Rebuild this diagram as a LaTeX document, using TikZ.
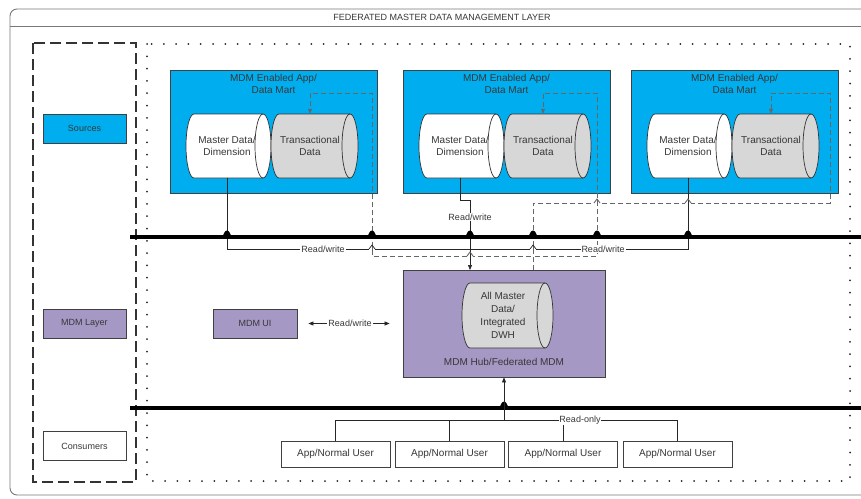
\documentclass[tikz,border=0pt]{standalone}
\usepackage{fontspec}
\setmainfont{Liberation Sans}
\usetikzlibrary{arrows.meta,calc}
\definecolor{mdmblue}{RGB}{0,174,239}
\definecolor{mdmpurple}{RGB}{166,152,196}
\definecolor{cylgray}{RGB}{215,215,215}
\definecolor{framegray}{RGB}{120,120,120}
\definecolor{txt}{RGB}{55,55,55}
\newcommand\fs[2]{\fontsize{#1}{#2}\selectfont}
\tikzset{
  boxline/.style={draw=black!75, line width=0.8pt, inner sep=0pt},
  legendbox/.style={boxline, minimum width=83pt, minimum height=29pt, font=\fs{9}{11}, text=txt},
  appbox/.style={boxline, fill=mdmblue, minimum width=207pt, minimum height=123pt},
  userbox/.style={boxline, fill=white, minimum width=109pt, minimum height=26pt, font=\fs{10}{12}, text=txt},
  cyltext/.style={inner sep=0pt, minimum height=64pt, align=center, font=\fs{10}{12.5}, text=txt},
  cylline/.style={draw=black!80, line width=0.7pt},
  conn/.style={draw=black!85, line width=0.7pt},
  dconn/.style={draw=black!60, line width=0.9pt, dash pattern=on 5pt off 3pt},
  tip/.style={-{Triangle[length=5pt,width=4pt]}},
  lbl/.style={fill=white, inner sep=1pt, font=\fs{9}{11}, text=txt},
  bus/.style={draw=black, line width=3.6pt},
  dotbox/.style={draw=black!85, line width=2pt, dash pattern=on 0pt off 12.3pt, line cap=round},
  dashbox/.style={draw=black!80, line width=1.2pt, dash pattern=on 11pt off 5pt},
  frameline/.style={draw=framegray, line width=0.9pt}
}
\newcommand\hcyl[5]{%
  \pgfmathsetmacro\cyA{#1}%
  \pgfmathsetmacro\cyB{#2}%
  \pgfmathsetmacro\cyT{#3}%
  \pgfmathsetmacro\cyD{#4}%
  \pgfmathsetmacro\cyM{(#3+#4)/2}%
  \pgfmathsetmacro\cyK{0.5523*(#4-#3)/2}%
  \def\cyR{8}%
  \filldraw[cylline, fill=#5] (\cyA+\cyR,\cyT) -- (\cyB,\cyT)
    .. controls (\cyB+0.5523*\cyR,\cyT) and (\cyB+\cyR,\cyM-\cyK) .. (\cyB+\cyR,\cyM)
    .. controls (\cyB+\cyR,\cyM+\cyK) and (\cyB+0.5523*\cyR,\cyD) .. (\cyB,\cyD)
    -- (\cyA+\cyR,\cyD)
    .. controls (\cyA+0.4477*\cyR,\cyD) and (\cyA,\cyM+\cyK) .. (\cyA,\cyM)
    .. controls (\cyA,\cyM-\cyK) and (\cyA+0.4477*\cyR,\cyT) .. cycle;
  \draw[cylline] (\cyB,\cyT)
    .. controls (\cyB-0.5523*\cyR,\cyT) and (\cyB-\cyR,\cyM-\cyK) .. (\cyB-\cyR,\cyM)
    .. controls (\cyB-\cyR,\cyM+\cyK) and (\cyB-0.5523*\cyR,\cyD) .. (\cyB,\cyD);
}
% filled dome on the bus where a line crosses it
\newcommand\busbump[2]{\fill[black] (#1-5,#2) .. controls (#1-3.5,#2-1) and (#1-3,#2-6.5) .. (#1,#2-6.5) .. controls (#1+3,#2-6.5) and (#1+3.5,#2-1) .. (#1+5,#2) -- cycle;}
% line hop: #1 style of the hopping line, #2 x, #3 y, #4 style of the crossed line
\newcommand\hop[4]{%
  \draw[white, line width=2.2pt] (#2-3,#3) -- (#2+3,#3);
  \draw[#4, solid] (#2,#3-3) -- (#2,#3+3);
  \draw[#1, solid] (#2-3,#3) -- (#2,#3-4) -- (#2+3,#3);
}
\begin{document}
\begin{tikzpicture}[x=1pt,y=-1pt]
\useasboundingbox (0,0) rectangle (861,498);
\clip (0,0) rectangle (861,498);
\fill[white] (0,0) rectangle (861,498);
% outer frame and title
\draw[frameline, rounded corners=7pt] (10,9) rectangle (890,495);
\draw[frameline] (10,26) -- (890,26);
\node[font=\fs{9}{11}, text=txt, inner sep=0pt] (title) at (442,17.5) {FEDERATED MASTER DATA MANAGEMENT LAYER};
% zone boxes
\draw[dashbox] (33,43) rectangle (136,482);
\draw[dotbox] (147,44) rectangle (850,481);
% legend
\node[legendbox, fill=mdmblue] (src) at (84.5,128.5) {Sources};
\node[legendbox, fill=mdmpurple] (mdml) at (84.5,323.5) {MDM Layer};
\node[legendbox, fill=white] (cons) at (84.5,446) {Consumers};
% app boxes
\node[appbox] (app1) at (273.5,131.5) {};
\node[appbox] (app2) at (506.5,131.5) {};
\node[appbox] (app3) at (734.5,131.5) {};
\foreach \n/\x in {1/273.5,2/506.5,3/734.5}{
  \node[align=center, font=\fs{10}{12}, text=txt, inner sep=0pt] (apt\n) at (\x,84) {MDM Enabled App/\\Data Mart};
}
% cylinders
\hcyl{186}{263}{114}{178}{white}
\hcyl{271}{350}{114}{178}{cylgray}
\hcyl{419}{496}{114}{178}{white}
\hcyl{504}{583}{114}{178}{cylgray}
\hcyl{647}{724}{114}{178}{white}
\hcyl{732}{811}{114}{178}{cylgray}
\node[cyltext] (m1) at (227,146) {Master Data/\\Dimension};
\node[cyltext] (t1) at (310,146) {Transactional\\Data};
\node[cyltext] (m2) at (460,146) {Master Data/\\Dimension};
\node[cyltext] (t2) at (543,146) {Transactional\\Data};
\node[cyltext] (m3) at (688,146) {Master Data/\\Dimension};
\node[cyltext] (t3) at (771,146) {Transactional\\Data};
% hub
\node[boxline, fill=mdmpurple, minimum width=202pt, minimum height=107pt] (hub) at (504,323.5) {};
\hcyl{462}{545}{283}{348}{cylgray}
\node[cyltext, minimum height=65pt, font=\fs{10}{13}] (hc) at (503,315.5) {All Master\\Data/\\Integrated\\DWH};
\node[font=\fs{10}{12}, text=txt, inner sep=0pt] (hublbl) at (504,362) {MDM Hub/Federated MDM};
% UI
\node[boxline, fill=mdmpurple, minimum width=84pt, minimum height=29pt, font=\fs{9}{11}, text=txt] (ui) at (255,323.5) {MDM UI};
% users
\node[userbox] (u1) at (335.5,454) {App/Normal User};
\node[userbox] (u2) at (449.5,454) {App/Normal User};
\node[userbox] (u3) at (563,454) {App/Normal User};
\node[userbox] (u4) at (677.5,454) {App/Normal User};
% helper coordinates
\coordinate (rwline) at (0,249);
\coordinate (hubin) at (470,270);
\coordinate (hubd) at (533,270);
\coordinate (d1) at (372,256);  \coordinate (d1t) at (372,93);
\coordinate (d2) at (597,256);  \coordinate (d2t) at (597,93);
\coordinate (d3) at (830,203);  \coordinate (d3t) at (830,93);
\coordinate (ro) at (504,420);
\coordinate (b1w) at (130,237); \coordinate (b1e) at (861,237);
\coordinate (b2w) at (130,408); \coordinate (b2e) at (861,408);
% solid read/write connectors
\draw[conn] (m1.south) |- (rwline -| m3.south) -- (m3.south);
\draw[conn, tip] (m2.south) -- ++(0,22) -| (hubin);
% dashed connectors
\draw[dconn, tip] (hubd) |- (d1) -- (d1t) -| (t1.north);
\draw[dconn, tip] (hubd) |- (d2) -- (d2t) -| (t2.north);
\draw[dconn, tip] (hubd) |- (d3) -- (d3t) -| (t3.north);
% line hops
\hop{conn}{372}{249}{dconn}
\hop{conn}{533}{249}{dconn}
\hop{dconn}{470}{256}{conn}
\hop{dconn}{597}{203}{dconn}
\hop{dconn}{688}{203}{conn}
% buses
\draw[bus] (b1w) -- (b1e);
\draw[bus] (b2w) -- (b2e);
\foreach \x in {227,372,470,533,597,688}{\busbump{\x}{237}}
\busbump{504}{408}
% labels on read/write lines
\node[lbl] (rwl1) at (323,249) {Read/write};
\node[lbl] (rwl2) at (603,249) {Read/write};
\node[lbl] (rwl3) at (470,217) {Read/write};
% UI <-> hub
\draw[conn, {Triangle[length=5pt,width=4pt]}-{Triangle[length=5pt,width=4pt]}, shorten <=11pt, shorten >=13pt] (ui) -- node[lbl] (rwl4) {Read/write} (hub);
% consumers
\draw[conn, tip] (ro) -- (hub.south);
\draw[conn] (u1.north) |- (ro -| u4.north) -- (u4.north);
\draw[conn] (u2.north) -- (u2.north |- ro);
\draw[conn] (u3.north) -- (u3.north |- ro);
\node[lbl, inner sep=0.5pt] (rol) at (580,420) {Read-only};
\end{tikzpicture}
\end{document}
